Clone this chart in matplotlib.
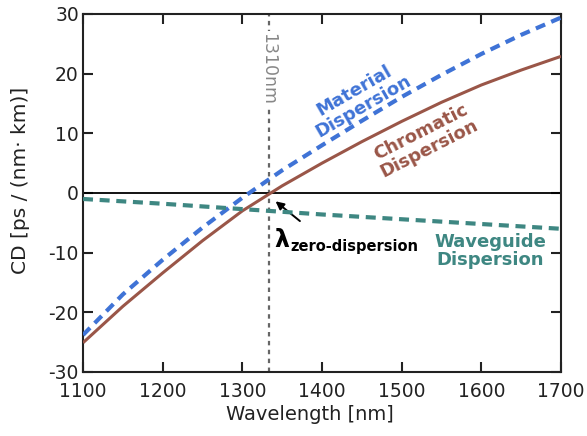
import matplotlib
matplotlib.use("Agg")
import matplotlib.pyplot as plt

plt.rcParams["axes.unicode_minus"] = False

wavelength = [1100, 1150, 1200, 1250, 1300, 1350, 1400, 1450, 1500, 1550, 1600, 1650, 1700]
material = [-23.8, -17.0, -11.2, -5.8, -0.8, 3.8, 8.0, 12.1, 16.1, 19.8, 23.3, 26.5, 29.4]
chromatic = [-25.1, -19.0, -13.4, -8.0, -3.0, 1.2, 5.0, 8.6, 12.0, 15.2, 18.1, 20.6, 22.9]
waveguide = [-1.0, -1.4, -1.8, -2.25, -2.7, -3.15, -3.6, -4.0, -4.4, -4.8, -5.2, -5.6, -6.0]
x_ticks = [1100, 1200, 1300, 1400, 1500, 1600, 1700]
y_ticks = [-30, -20, -10, 0, 10, 20, 30]
ref_wl = 1333

c_mat = "#3f73d6"
c_chr = "#9a5648"
c_wg = "#3e8782"

fig = plt.figure(figsize=(5.87, 4.36), dpi=100)
ax = fig.add_axes([0.1414, 0.1468, 0.9557 - 0.1414, 0.9679 - 0.1468])

ax.axhline(0, color="black", lw=1.3, zorder=2)
ax.axvline(ref_wl, color="#666666", lw=1.6, ls=(0, (2, 2)), zorder=1)

ax.plot(wavelength, chromatic, color=c_chr, lw=2.2, solid_capstyle="butt", zorder=3)
ax.plot(wavelength, material, color=c_mat, lw=3.0, ls=(0, (2.4, 1.6)), zorder=4)
ax.plot(wavelength, waveguide, color=c_wg, lw=3.0, ls=(0, (2.4, 1.6)), zorder=4)

ax.set_xlim(1100, 1700)
ax.set_ylim(-30, 30)
ax.set_xticks(x_ticks)
ax.set_yticks(y_ticks)
ax.tick_params(direction="in", length=7, width=1.5, labelsize=13.5, top=True, right=True,
               colors="#222222")
ax.tick_params(axis="x", pad=7)
ax.tick_params(axis="y", pad=3)
for s in ax.spines.values():
    s.set_linewidth(1.5)
    s.set_color("#222222")

ax.set_xlabel("Wavelength [nm]", fontsize=14, color="#222222")
ax.xaxis.set_label_coords(0.475, -0.092)
ax.set_ylabel("CD [ps / (nm· km)]", fontsize=14.5, color="#222222")
ax.yaxis.set_label_coords(-0.111, 0.535)

ax.text(ref_wl, 20.8, "1310nm", rotation=-90, ha="center", va="center", fontsize=12.5,
        color="#888888", zorder=5,
        bbox=dict(facecolor="white", edgecolor="none", pad=1.5))

ax.text(1446, 15.8, "Material\nDispersion", rotation=30, ha="center", va="center",
        fontsize=13, fontweight="bold", color=c_mat, linespacing=1.0, rotation_mode="anchor")
ax.text(1529, 8.8, "Chromatic\nDispersion", rotation=27, ha="center", va="center",
        fontsize=13, fontweight="bold", color=c_chr, linespacing=1.0, rotation_mode="anchor")
ax.text(1611, -9.7, "Waveguide\nDispersion", ha="center", va="center",
        fontsize=13, fontweight="bold", color=c_wg, linespacing=1.0)

ax.annotate("", xy=(1339, -1.1), xytext=(1375, -5.0),
            arrowprops=dict(arrowstyle="-|>", color="black", lw=1.4, mutation_scale=12))
ax.text(1340, -7.9, "λ", fontsize=17, fontweight="bold", ha="left", va="center")
ax.text(1360, -8.9, "zero-dispersion", fontsize=10.5, fontweight="bold", ha="left", va="center")

fig.savefig("out.png", dpi=100)
